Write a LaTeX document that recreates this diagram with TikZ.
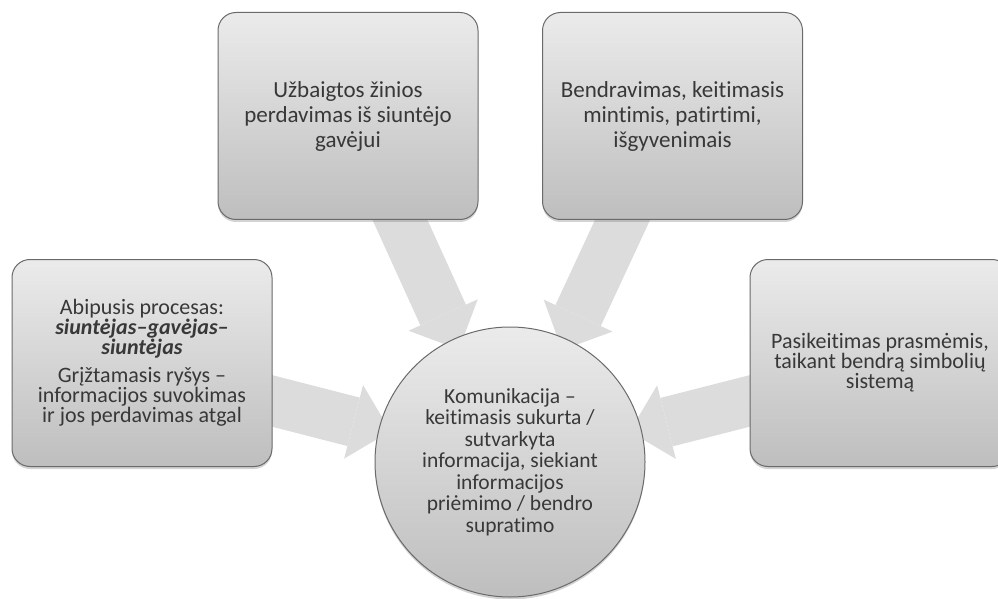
\documentclass[tikz,border=0pt]{standalone}
\usepackage{fontspec}
\setmainfont{Carlito}[Ligatures=NoCommon]
\usetikzlibrary{arrows.meta,shadows}
\pgfdeclarelayer{background}
\pgfsetlayers{background,main}
\definecolor{boxtop}{HTML}{EBEBEB}
\definecolor{boxbottom}{HTML}{BEBEBE}
\definecolor{boxline}{HTML}{6A6A6A}
\definecolor{arrowfill}{HTML}{DCDCDC}
\colorlet{boxtext}{black!78}
\tikzset{
  infobox/.style={draw=boxline, line width=1pt, rounded corners=18pt,
    top color=boxtop, bottom color=boxbottom, text=boxtext, align=center,
    minimum width=260pt, minimum height=207pt, inner sep=0pt,
    drop shadow={shadow xshift=0pt, shadow yshift=-2.5pt, opacity=0.35}},
  topbox/.style={infobox, font=\fontsize{23}{25}\selectfont},
  sidebox/.style={infobox, font=\fontsize{22}{20}\selectfont},
  hubnode/.style={circle, draw=boxline, line width=1pt, minimum size=270pt,
    top color=boxtop, bottom color=boxbottom, text=boxtext, align=center,
    inner sep=0pt, font=\fontsize{21.5}{21.5}\selectfont,
    drop shadow={shadow xshift=0pt, shadow yshift=-2.5pt, opacity=0.35}},
  bigarrow/.style={draw=arrowfill, line width=50pt, shorten <=-20pt, shorten >=-12pt,
    -{Triangle[width=76pt, length=38pt, line width=0pt]}}
}
\begin{document}
\begin{tikzpicture}[x=1pt, y=1pt]
    \useasboundingbox (0,0) rectangle (998,598);

    \node (U) [topbox] at (348,482) {U\v{z}baigtos \v{z}inios\\ perdavimas i\v{s} siunt\.{e}jo\\ gav\.{e}jui};
    \node (B) [topbox] at (672.5,482) {Bendravimas, keitimasis\\ mintimis, patirtimi,\\ i\v{s}gyvenimais};
    \node (A) [sidebox] at (142,235) {Abipusis procesas:\\
        {\bfseries\itshape siunt\.{e}jas--gav\.{e}jas--}\\
        {\bfseries\itshape siunt\.{e}jas}\\[8pt]
        Gr\k{i}\v{z}tamasis ry\v{s}ys --\\ informacijos suvokimas\\ ir jos perdavimas atgal};
    \node (P) [sidebox] at (880,235) {Pasikeitimas prasm\.{e}mis,\\ taikant bendr\k{a} simboli\k{u}\\ sistem\k{a}};
    \node (K) [hubnode] at (510,136) {Komunikacija --\\ keitimasis sukurta /\\ sutvarkyta\\ informacija, siekiant\\ informacijos\\ pri\.{e}mimo / bendro\\ supratimo};

    \coordinate (Us) at ([xshift=52pt]U.south);
    \coordinate (Bs) at ([xshift=-50pt]B.south);
    \coordinate (As) at ([yshift=-38pt]A.east);
    \coordinate (Ps) at ([yshift=-38pt]P.west);

    \begin{pgfonlayer}{background}
        \draw [bigarrow] (Us) -- (K);
        \draw [bigarrow] (Bs) -- (K);
        \draw [bigarrow] (As) -- (K);
        \draw [bigarrow] (Ps) -- (K);
    \end{pgfonlayer}
\end{tikzpicture}
\end{document}
